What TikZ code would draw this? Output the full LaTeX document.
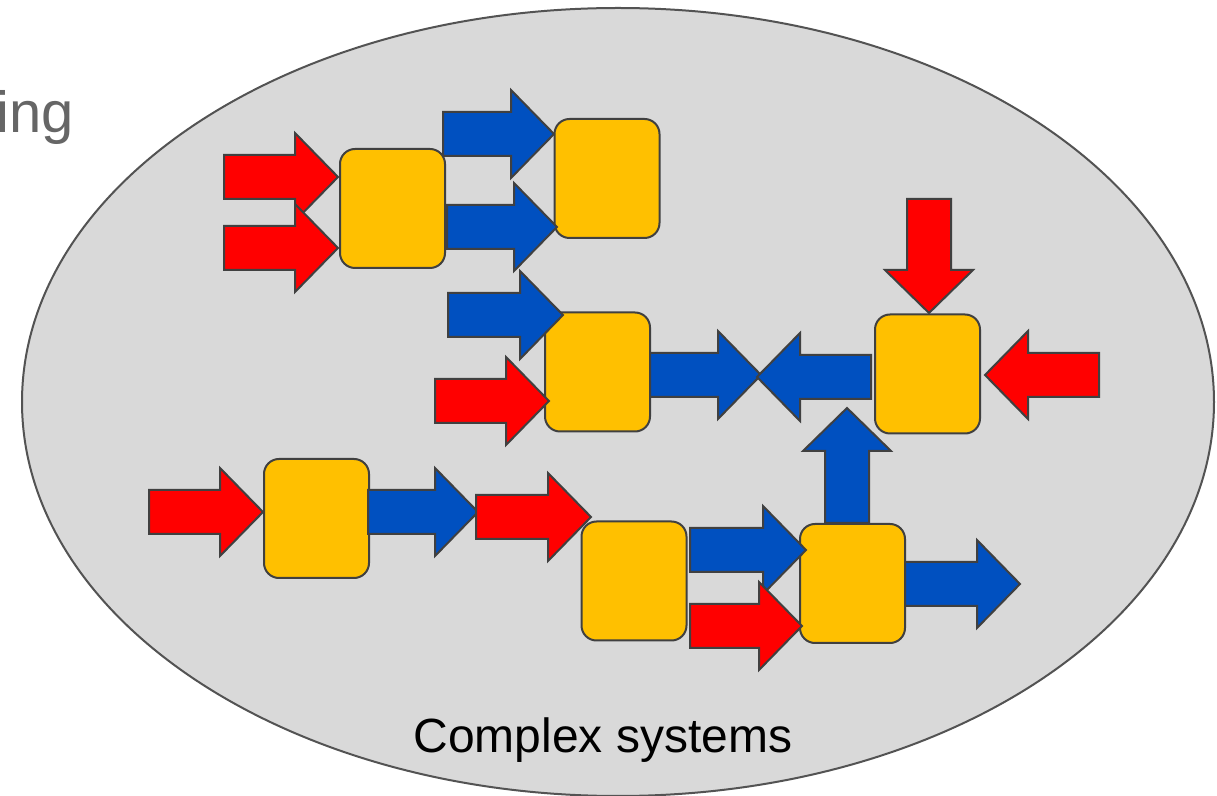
\documentclass[tikz,border=0pt]{standalone}
\usepackage{fontspec}
\setmainfont{Liberation Sans}
\definecolor{ellgray}{HTML}{D9D9D9}
\definecolor{edgegray}{HTML}{404040}
\definecolor{boxyellow}{HTML}{FFC000}
\definecolor{arrred}{HTML}{FF0000}
\definecolor{arrblue}{HTML}{0050C0}
\definecolor{txtgray}{HTML}{666666}
% horizontal arrow pointing right: style, tail x, tip x, y
\newcommand\rarr[4]{\draw[#1] (#2,#4-22) -- (#3-43,#4-22) -- (#3-43,#4-44) -- (#3,#4) -- (#3-43,#4+44) -- (#3-43,#4+22) -- (#2,#4+22) -- cycle;}
% pointing left
\newcommand\larr[4]{\draw[#1] (#2,#4-22) -- (#3+43,#4-22) -- (#3+43,#4-44) -- (#3,#4) -- (#3+43,#4+44) -- (#3+43,#4+22) -- (#2,#4+22) -- cycle;}
% pointing down: style, x, tail y, tip y
\newcommand\darr[4]{\draw[#1] (#2-22,#3) -- (#2-22,#4-43) -- (#2-44,#4-43) -- (#2,#4) -- (#2+44,#4-43) -- (#2+22,#4-43) -- (#2+22,#3) -- cycle;}
% pointing up
\newcommand\uarr[4]{\draw[#1] (#2-22,#3) -- (#2-22,#4+43) -- (#2-44,#4+43) -- (#2,#4) -- (#2+44,#4+43) -- (#2+22,#4+43) -- (#2+22,#3) -- cycle;}
\begin{document}
\begin{tikzpicture}[x=0.5pt,y=-0.5pt,
  unit/.style={draw=edgegray, fill=boxyellow, line width=1pt, rounded corners=7.5pt,
    minimum width=52.5pt, minimum height=59.5pt, inner sep=0pt},
  redarr/.style={draw=edgegray, fill=arrred, line width=1pt, line join=miter},
  bluearr/.style={draw=edgegray, fill=arrblue, line width=1pt, line join=miter}]
\useasboundingbox (0,0) rectangle (1217,796);
% system boundary
\draw[fill=ellgray, draw=edgegray!90, line width=1pt] (618,402) ellipse [x radius=298pt, y radius=197pt];
% partial title
\node[anchor=base east, inner sep=0pt, text=txtgray, font=\fontsize{29pt}{34pt}\selectfont] (title) at (74,133) {ing};
% units
\node[unit] (A) at (392.5,208.5) {};
\node[unit] (B) at (607,178.5) {};
\node[unit] (C) at (597.5,372) {};
\node[unit] (D) at (927.5,374) {};
\node[unit] (E) at (316.5,518.5) {};
\node[unit] (F) at (634,581) {};
\node[unit] (G) at (852.5,583.5) {};
% flows
\rarr{redarr}{224}{338}{177}
\rarr{redarr}{224}{338}{248}
\rarr{bluearr}{443}{554}{134}
\rarr{bluearr}{447}{557}{227}
\rarr{bluearr}{448}{563}{315}
\rarr{redarr}{435}{549}{401}
\rarr{bluearr}{650}{761}{375}
\larr{bluearr}{871}{757}{377}
\darr{redarr}{929}{199}{313}
\larr{redarr}{1099}{985}{375}
\uarr{bluearr}{847}{523}{408}
\rarr{redarr}{149}{263}{512}
\rarr{bluearr}{368}{478}{512}
\rarr{redarr}{476}{591}{517}
\rarr{bluearr}{690}{806}{550}
\rarr{redarr}{690}{802}{626}
\rarr{bluearr}{905}{1020}{584}
% label
\node[anchor=base, inner sep=0pt, font=\fontsize{24pt}{29pt}\selectfont] (label) at (603,753) {Complex systems};
\end{tikzpicture}
\end{document}
